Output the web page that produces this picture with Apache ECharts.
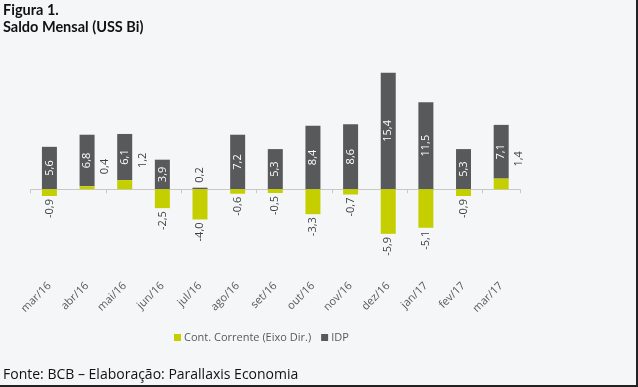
<!DOCTYPE html>
<html>
<head>
<meta charset="utf-8">
<script src="https://cdn.jsdelivr.net/npm/echarts@6/dist/echarts.min.js"></script>
<style>
html,body{margin:0;padding:0;background:#F5F6F8;}
#wrap{position:relative;width:638px;height:387px;background:#F5F6F8;box-sizing:border-box;border-right:2px solid #222;border-bottom:2px solid #222;}
#chart{position:absolute;left:0;top:0;width:636px;height:385px;}
</style>
</head>
<body>
<div id="wrap"><div id="chart"></div></div>
<script>
var categories = ['mar/16','abr/16','mai/16','jun/16','jul/16','ago/16','set/16','out/16','nov/16','dez/16','jan/17','fev/17','mar/17'];
var contCorrente = [-0.9, 0.4, 1.2, -2.5, -4.0, -0.6, -0.5, -3.3, -0.7, -5.9, -5.1, -0.9, 1.4];
var idp = [5.6, 6.8, 6.1, 3.9, 0.2, 7.2, 5.3, 8.4, 8.6, 15.4, 11.5, 5.3, 7.1];
var seriesNames = ['Cont. Corrente (Eixo Dir.)', 'IDP'];
var titleLines = ['Figura 1.', 'Saldo Mensal (USS Bi)'];
var footer = 'Fonte: BCB \u2013 Elabora\u00e7\u00e3o: Parallaxis Economia';

function fmt(v){ return v.toFixed(1).replace('.', ','); }

var chart = echarts.init(document.getElementById('chart'), null, {renderer:'canvas'});
var labelFont = {fontFamily:'Open Sans', fontSize:11};

var ccData = contCorrente.map(function(v){
  var lab = v >= 0
    ? {position:'top', rotate:90, align:'left', verticalAlign:'middle', offset:[12,18], distance:0}
    : {position:'bottom', rotate:90, align:'right', verticalAlign:'middle', distance:3};
  return {value:v, label:lab};
});
var idpData = idp.map(function(v){
  var lab = v >= 1
    ? {position:'inside', rotate:90, align:'center', verticalAlign:'middle', color:'#ffffff'}
    : {position:'top', rotate:90, align:'left', verticalAlign:'middle', distance:5, color:'#404040'};
  return {value:v, label:lab};
});

chart.setOption({
  backgroundColor:'#F5F6F8',
  animation:false,
  title:[
    {text:titleLines[0] + '\n' + titleLines[1], left:3, top:2, padding:0,
     textStyle:{fontFamily:'Lato', fontWeight:'bold', fontSize:14.5, color:'#111', lineHeight:17}},
    {text:footer, left:3, top:368, padding:0,
     textStyle:{fontFamily:'Open Sans', fontWeight:'normal', fontSize:14, color:'#111'}}
  ],
  legend:{
    data:seriesNames, left:169, top:327, itemWidth:7, itemHeight:7, itemGap:10,
    icon:'rect', textStyle:{fontFamily:'Open Sans', fontSize:11, color:'#595959', padding:[0,0,0,-2]}
  },
  grid:{left:30.6, right:116, top:53, bottom:105, containLabel:false},
  xAxis:[
    {type:'category', data:categories, axisLine:{onZero:true, lineStyle:{color:'#C8C8C8', width:1}},
     axisTick:{show:true, length:4, lineStyle:{color:'#C8C8C8'}}, axisLabel:{show:false}},
    {type:'category', data:categories, position:'bottom', axisLine:{show:false, onZero:false},
     axisTick:{show:false},
     axisLabel:{rotate:45, margin:4, fontFamily:'Open Sans', fontSize:11, color:'#595959'}}
  ],
  yAxis:[
    {type:'value', min:-12, max:18, show:false, splitLine:{show:false}}
  ],
  series:[
    {name:seriesNames[0], type:'bar', xAxisIndex:0, yAxisIndex:0, data:ccData, barWidth:15, stack:'total',
     itemStyle:{color:'#C5CF00'}, z:3,
     label:Object.assign({show:true, color:'#404040', formatter:function(p){return fmt(p.value);}}, labelFont)},
    {name:seriesNames[1], type:'bar', xAxisIndex:0, yAxisIndex:0, data:idpData, barWidth:15, stack:'total',
     itemStyle:{color:'#58595B'}, z:2,
     label:Object.assign({show:true, color:'#ffffff', formatter:function(p){return fmt(p.value);}}, labelFont)}
  ]
});
</script>
</body>
</html>
